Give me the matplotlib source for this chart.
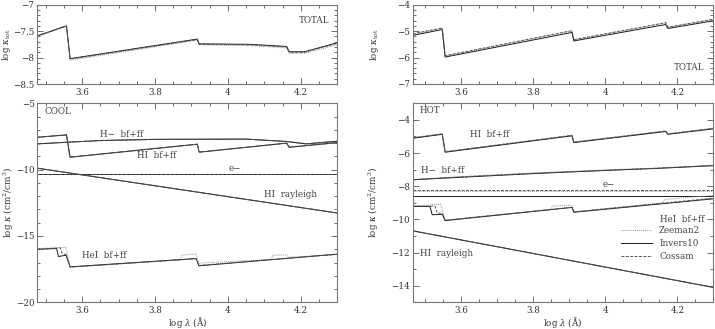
import matplotlib
matplotlib.use("Agg")
import matplotlib.pyplot as plt
from matplotlib.ticker import MultipleLocator

plt.rcParams['font.family'] = ['DejaVu Serif']
plt.rcParams['mathtext.fontset'] = 'dejavuserif'
plt.rcParams['font.size'] = 6.3

# ---- data (log lambda, log kappa) ----
codes = ["Zeeman2", "Invers10", "Cossam"]

# cool model, total opacity
cool_total_x = [3.477, 3.557, 3.567, 3.916, 3.921, 4.06, 4.161, 4.168, 4.21, 4.3]
cool_total_zeeman = [-7.60, -7.41, -8.05, -7.67, -7.76, -7.77, -7.82, -7.92, -7.92, -7.76]
cool_total_invers = [-7.59, -7.40, -8.02, -7.65, -7.74, -7.75, -7.79, -7.89, -7.89, -7.72]
cool_total_cossam = [-7.59, -7.40, -8.03, -7.66, -7.75, -7.76, -7.80, -7.90, -7.90, -7.73]

# cool model, individual sources
cool_hm_x = [3.477, 3.55, 3.65, 3.8, 3.95, 4.05, 4.16, 4.215, 4.3]
cool_hm_invers = [-8.06, -7.95, -7.81, -7.72, -7.71, -7.70, -7.88, -8.06, -7.86]
cool_hm_zeeman = [-8.05, -7.93, -7.79, -7.70, -7.69, -7.69, -7.86, -8.04, -7.85]

cool_hi_x = [3.477, 3.557, 3.567, 3.916, 3.921, 4.161, 4.168, 4.3]
cool_hi_invers = [-7.56, -7.38, -9.06, -8.08, -8.68, -8.00, -8.31, -7.96]
cool_hi_zeeman = [-7.57, -7.39, -9.08, -8.10, -8.70, -8.02, -8.33, -7.98]

cool_e_x = [3.477, 4.3]
cool_e = [-10.34, -10.34]

cool_ray_x = [3.477, 4.3]
cool_ray = [-9.89, -13.27]

cool_hei_invers_x = [3.477, 3.53, 3.535, 3.556, 3.567, 3.913, 3.92, 4.3]
cool_hei_invers = [-16.0, -15.95, -16.55, -16.45, -17.33, -16.7, -17.25, -16.37]
cool_hei_zeeman_x = [3.477, 3.556, 3.567, 3.87, 3.873, 3.913, 3.92, 4.12, 4.123, 4.16, 4.165, 4.3]
cool_hei_zeeman = [-15.95, -15.85, -17.33, -16.8, -16.45, -16.35, -17.05, -16.75, -16.45, -16.42, -16.6, -16.4]
cool_hei_cossam_x = [3.477, 3.54, 3.545, 3.556, 3.567, 3.913, 3.92, 4.3]
cool_hei_cossam = [-16.0, -15.9, -16.3, -16.4, -17.35, -16.72, -17.22, -16.38]

# hot model, total opacity
hot_x = [3.466, 3.548, 3.556, 3.908, 3.913, 4.168, 4.174, 4.3]
hot_total_zeeman = [-5.11, -4.89, -5.94, -4.99, -5.33, -4.69, -4.86, -4.56]
hot_total_invers = [-5.16, -4.94, -5.98, -5.05, -5.37, -4.75, -4.90, -4.61]
hot_total_cossam = [-5.10, -4.88, -5.93, -4.98, -5.32, -4.68, -4.85, -4.55]

# hot model, individual sources
hot_hi_invers = [-5.11, -4.87, -5.95, -4.96, -5.37, -4.70, -4.87, -4.54]
hot_hi_zeeman = [-5.08, -4.84, -5.92, -4.93, -5.34, -4.67, -4.84, -4.51]

hot_hm_x = [3.466, 3.6, 3.8, 4.0, 4.15, 4.3]
hot_hm_zeeman = [-7.60, -7.42, -7.20, -7.02, -6.90, -6.74]
hot_hm_invers = [-7.61, -7.46, -7.24, -7.05, -6.92, -6.76]
hot_hm_cossam = [-7.61, -7.44, -7.22, -7.04, -6.91, -6.75]

hot_e_x = [3.466, 4.3]
hot_e_zeeman = [-8.26, -8.26]
hot_e_invers = [-8.58, -8.58]
hot_e_cossam = [-8.25, -8.25]

hot_ray_x = [3.466, 4.3]
hot_ray = [-10.69, -14.10]

hot_hei_invers_x = [3.466, 3.514, 3.52, 3.548, 3.556, 3.908, 3.913, 4.3]
hot_hei_invers = [-9.22, -9.22, -9.72, -9.70, -10.07, -9.28, -9.57, -8.76]
hot_hei_zeeman_x = [3.466, 3.544, 3.556, 3.85, 3.853, 3.908, 3.913, 4.16, 4.165, 4.3]
hot_hei_zeeman = [-9.20, -9.08, -10.07, -9.40, -9.20, -9.15, -9.55, -9.00, -8.80, -8.55]
hot_hei_cossam_x = [3.466, 3.528, 3.534, 3.548, 3.556, 3.908, 3.913, 4.3]
hot_hei_cossam = [-9.20, -9.20, -9.62, -9.62, -10.05, -9.27, -9.55, -8.72]

styles = {
    "Zeeman2": dict(color="#9a9a9a", ls=(0, (1, 1)), lw=0.7),
    "Invers10": dict(color="#1a1a1a", ls="-", lw=0.7),
    "Cossam": dict(color="#555555", ls=(0, (3, 1.5)), lw=0.7),
}

W, H = 715, 329
fig = plt.figure(figsize=(W / 100, H / 100), dpi=100)


def add_ax(x0, x1, y0, y1):
    return fig.add_axes([x0 / W, 1 - y1 / H, (x1 - x0) / W, (y1 - y0) / H])


def style_ax(ax, xlim, ylim, ymaj, ymin):
    ax.set_xlim(*xlim)
    ax.set_ylim(*ylim)
    ax.xaxis.set_major_locator(MultipleLocator(0.2))
    ax.xaxis.set_minor_locator(MultipleLocator(0.05))
    ax.yaxis.set_major_locator(MultipleLocator(ymaj))
    ax.yaxis.set_minor_locator(MultipleLocator(ymin))
    ax.tick_params(which='both', direction='in', top=True, right=True,
                   colors='#555555', labelcolor='#333333', labelsize=6.3, pad=3)
    ax.tick_params(axis='y', which='both', pad=2)
    ax.tick_params(which='major', length=4, width=0.6)
    ax.tick_params(which='minor', length=2, width=0.6)
    for s in ax.spines.values():
        s.set_color('#777777')
        s.set_linewidth(0.8)
    ax.xaxis.set_major_formatter(plt.FuncFormatter(lambda v, p: f"{v:g}"))
    ax.yaxis.set_major_formatter(plt.FuncFormatter(lambda v, p: f"{v:g}".replace('-', '\u2212')))


def plot3(ax, xs, ys):
    for code, x, y in zip(codes, xs, ys):
        ax.plot(x, y, **styles[code], label=code)


txt = dict(color='#444444', fontsize=6.3)
lab = dict(color='#333333', fontsize=6.3)

# ---- top left: cool total ----
ax1 = add_ax(37.3, 337.3, 4.7, 84)
style_ax(ax1, (3.477, 4.3), (-8.5, -7), 0.5, 0.1)
plot3(ax1, [cool_total_x] * 3, [cool_total_zeeman, cool_total_invers, cool_total_cossam])
ax1.text(4.277, -7.3, "TOTAL", ha='right', va='center', **txt)
ax1.set_ylabel(r"log $\kappa_{\rm tot}$", **lab)
ax1.yaxis.set_label_coords(-0.08, 0.5)

# ---- bottom left: cool ----
ax2 = add_ax(37.3, 337.3, 103.3, 302.3)
style_ax(ax2, (3.477, 4.3), (-20, -5), 5, 1)
plot3(ax2, [cool_hm_x] * 3, [cool_hm_zeeman, cool_hm_invers, cool_hm_invers])
plot3(ax2, [cool_hi_x] * 3, [cool_hi_zeeman, cool_hi_invers, cool_hi_invers])
plot3(ax2, [cool_e_x] * 3, [cool_e] * 3)
plot3(ax2, [cool_ray_x] * 3, [cool_ray] * 3)
plot3(ax2, [cool_hei_zeeman_x, cool_hei_invers_x, cool_hei_cossam_x],
      [cool_hei_zeeman, cool_hei_invers, cool_hei_cossam])
ax2.text(3.498, -5.63, "COOL", ha='left', va='center', **txt)
ax2.text(3.65, -7.33, "H\u2212  bf+ff", ha='left', va='center', **txt)
ax2.text(3.75, -8.96, "HI  bf+ff", ha='left', va='center', **txt)
ax2.text(4.002, -9.89, "e\u2212", ha='left', va='center', **txt)
ax2.text(4.10, -11.84, "HI  rayleigh", ha='left', va='center', **txt)
ax2.text(3.60, -16.45, "HeI  bf+ff", ha='left', va='center', **txt)
ax2.set_ylabel(r"log $\kappa$ (cm$^2$/cm$^3$)", **lab)
ax2.yaxis.set_label_coords(-0.072, 0.5)
ax2.set_xlabel(r"log $\lambda$ ($\rm\AA$)", **lab)
ax2.xaxis.set_label_coords(0.5, -0.066)

# ---- top right: hot total ----
ax3 = add_ax(412.7, 713.3, 4.7, 84)
style_ax(ax3, (3.466, 4.3), (-7, -4), 1, 0.2)
plot3(ax3, [hot_x] * 3, [hot_total_zeeman, hot_total_invers, hot_total_cossam])
ax3.text(4.276, -6.37, "TOTAL", ha='right', va='center', **txt)
ax3.set_ylabel(r"log $\kappa_{\rm tot}$", **lab)
ax3.yaxis.set_label_coords(-0.105, 0.5)

# ---- bottom right: hot ----
ax4 = add_ax(412.7, 713.3, 103.3, 302.3)
style_ax(ax4, (3.466, 4.3), (-15, -3), 2, 1)
plot3(ax4, [hot_x] * 3, [hot_hi_zeeman, hot_hi_invers, hot_hi_zeeman])
plot3(ax4, [hot_hm_x] * 3, [hot_hm_zeeman, hot_hm_invers, hot_hm_cossam])
plot3(ax4, [hot_e_x] * 3, [hot_e_zeeman, hot_e_invers, hot_e_cossam])
plot3(ax4, [hot_hei_zeeman_x, hot_hei_invers_x, hot_hei_cossam_x],
      [hot_hei_zeeman, hot_hei_invers, hot_hei_cossam])
plot3(ax4, [hot_ray_x] * 3, [hot_ray] * 3)
ax4.text(3.486, -3.46, "HOT", ha='left', va='center', **txt)
ax4.text(3.625, -4.9, "HI  bf+ff", ha='left', va='center', **txt)
ax4.text(3.489, -7.05, "H\u2212  bf+ff", ha='left', va='center', **txt)
ax4.text(3.994, -7.88, "e\u2212", ha='left', va='center', **txt)
ax4.text(4.151, -10.02, "HeI  bf+ff", ha='left', va='center', **txt)
ax4.text(3.486, -12.07, "HI  rayleigh", ha='left', va='center', **txt)
ax4.set_ylabel(r"log $\kappa$ (cm$^2$/cm$^3$)", **lab)
ax4.yaxis.set_label_coords(-0.105, 0.5)
ax4.set_xlabel(r"log $\lambda$ ($\rm\AA$)", **lab)
ax4.xaxis.set_label_coords(0.5, -0.066)

handles, labels = ax4.get_legend_handles_labels()
leg = ax4.legend(handles[:3], labels[:3], loc='upper right', bbox_to_anchor=(0.957, 0.382),
                 frameon=False, fontsize=6.3, handlelength=3.6, handletextpad=0.8,
                 labelspacing=0.45, borderpad=0, borderaxespad=0)
for t in leg.get_texts():
    t.set_color('#444444')

fig.savefig("out.png", dpi=100)
